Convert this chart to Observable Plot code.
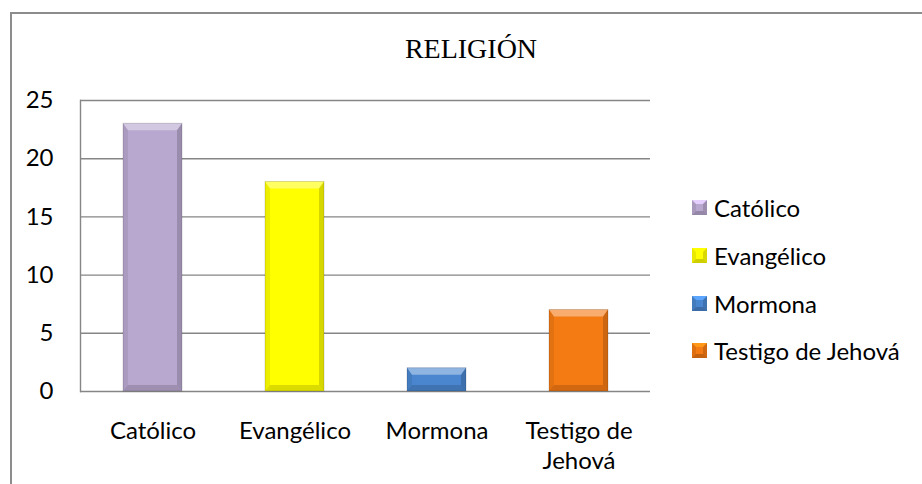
<!DOCTYPE html>
<html>
<head>
<meta charset="utf-8">
<script src="https://cdn.jsdelivr.net/npm/d3@7"></script>
<script src="https://cdn.jsdelivr.net/npm/@observablehq/plot@0.6"></script>
<style>
  html, body { margin: 0; padding: 0; background: #fff; }
  #wrap { position: relative; width: 922px; height: 484px; overflow: hidden; font-family: Lato, "Open Sans", sans-serif; }
  #border { position: absolute; left: 10px; top: 12px; width: 1000px; height: 600px; border-left: 2px solid #8c8c8c; border-top: 2px solid #8c8c8c; box-sizing: border-box; }
  #title { position: absolute; left: 10px; width: 922px; top: 33px; text-align: center; font-family: "Liberation Serif", "DejaVu Serif", serif; font-size: 28px; line-height: 32px; color: #000; }
  #legend { position: absolute; left: 692px; top: 184px; }
  .row { display: flex; align-items: center; height: 47.7px; font-size: 24px; color: #000; }
  .sw { width: 15px; height: 15px; box-sizing: border-box; border-style: solid; border-width: 4px; margin-right: 7px; }
  #chart { position: absolute; left: 0; top: 0; }
</style>
</head>
<body>
<div id="wrap">
  <div id="border"></div>
  <div id="chart"></div>
  <div id="title"></div>
  <div id="legend"></div>
</div>
<script>
const title = "RELIGIÓN";
const categories = ["Católico", "Evangélico", "Mormona", "Testigo de Jehová"];
const values = [23, 18, 2, 7];
const colors = ["#B8A7CF", "#FFFF00", "#4A86CF", "#F47A14"];
const yTicks = [0, 5, 10, 15, 20, 25];
const xTickLabels = ["Católico", "Evangélico", "Mormona", "Testigo de\nJehová"];

const data = categories.map((c, i) => ({category: c, value: values[i], color: colors[i], label: xTickLabels[i]}));

function bevel(index, scales, vals, dims, ctx, next) {
  const g = next(index, scales, vals, dims, ctx);
  const ns = "http://www.w3.org/2000/svg";
  const rects = Array.from(g.querySelectorAll("rect"));
  rects.forEach(r => {
    const x = +r.getAttribute("x"), y = +r.getAttribute("y");
    const w = +r.getAttribute("width"), h = +r.getAttribute("height");
    const s = 5, t = Math.min(7, h / 3), b = Math.min(6, h / 3);
    const polys = [
      {p: [[x, y], [x + w, y], [x + w - s, y + t], [x + s, y + t]], f: "#fff", o: 0.38},
      {p: [[x, y], [x + s, y + t], [x + s, y + h - b], [x, y + h]], f: "#000", o: 0.07},
      {p: [[x + w, y], [x + w - s, y + t], [x + w - s, y + h - b], [x + w, y + h]], f: "#000", o: 0.16},
      {p: [[x, y + h], [x + s, y + h - b], [x + w - s, y + h - b], [x + w, y + h]], f: "#000", o: 0.14}
    ];
    polys.forEach(q => {
      const el = document.createElementNS(ns, "polygon");
      el.setAttribute("points", q.p.map(d => d.join(",")).join(" "));
      el.setAttribute("fill", q.f);
      el.setAttribute("fill-opacity", q.o);
      g.appendChild(el);
    });
    const ol = document.createElementNS(ns, "rect");
    ol.setAttribute("x", x); ol.setAttribute("y", y); ol.setAttribute("width", w); ol.setAttribute("height", h);
    ol.setAttribute("fill", "none"); ol.setAttribute("stroke", "#000"); ol.setAttribute("stroke-opacity", 0.15);
    g.appendChild(ol);
  });
  return g;
}

const chart = Plot.plot({
  width: 922,
  height: 484,
  marginLeft: 80,
  marginRight: 272,
  marginTop: 100,
  marginBottom: 93,
  style: {fontFamily: "Lato, 'Open Sans', sans-serif", fontSize: "24px", color: "#000", background: "transparent", overflow: "visible"},
  x: {domain: categories, paddingInner: 0.586, paddingOuter: 0.293, label: null},
  y: {domain: [0, 25], label: null},
  marks: [
    Plot.gridY(yTicks, {stroke: "#868686", strokeOpacity: 1, strokeWidth: 1.4}),
    Plot.frame({anchor: "left", stroke: "#868686", strokeWidth: 1.4}),
    Plot.barY(data, {x: "category", y: "value", fill: "color", render: bevel}),
    Plot.axisY(yTicks, {tickSize: 0, tickPadding: 27, fontSize: 24, label: null}),
    Plot.axisX({tickSize: 0, tickPadding: 26, fontSize: 24, lineHeight: 1.25, label: null,
      tickFormat: d => xTickLabels[categories.indexOf(d)]})
  ]
});
document.getElementById("chart").appendChild(chart);

document.getElementById("title").textContent = title;

const legend = document.getElementById("legend");
categories.forEach((c, i) => {
  const col = d3.color(colors[i]);
  const row = document.createElement("div");
  row.className = "row";
  const sw = document.createElement("div");
  sw.className = "sw";
  sw.style.background = colors[i];
  sw.style.borderTopColor = col.brighter(0.6).formatHex();
  sw.style.borderLeftColor = col.darker(0.25).formatHex();
  sw.style.borderRightColor = col.darker(0.45).formatHex();
  sw.style.borderBottomColor = col.darker(0.6).formatHex();
  const tx = document.createElement("span");
  tx.textContent = c;
  row.appendChild(sw);
  row.appendChild(tx);
  legend.appendChild(row);
});
</script>
</body>
</html>
